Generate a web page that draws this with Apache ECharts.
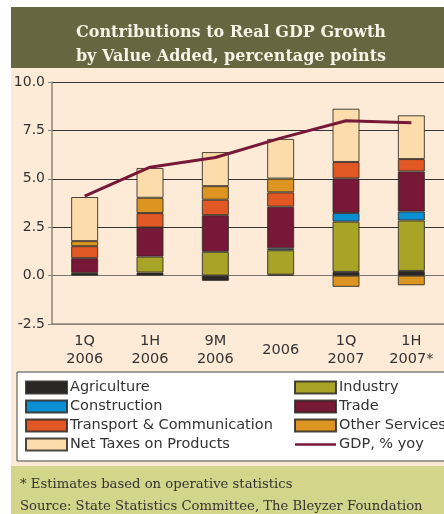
<!DOCTYPE html>
<html><head><meta charset="utf-8">
<script src="https://cdn.jsdelivr.net/npm/echarts@6/dist/echarts.min.js"></script>
<style>html,body{margin:0;padding:0;background:#fff}#c{width:444px;height:514px}</style>
</head><body><div id="c"></div>
<script>
const categories = ['1Q\n2006', '1H\n2006', '9M\n2006', '2006', '1Q\n2007', '1H\n2007*'];
const agriculture = [0.14, 0.16, -0.27, 0.05, 0.19, 0.24];
const industry = [null, 0.82, 1.23, 1.26, 2.60, 2.61];
const construction = [null, null, null, 0.10, 0.44, 0.46];
const trade = [0.76, 1.50, 1.89, 2.15, 1.79, 2.07];
const transport = [0.62, 0.75, 0.80, 0.74, 0.85, 0.64];
const otherServices = [0.26, 0.79, 0.70, 0.71, -0.58, -0.50];
const netTaxes = [2.28, 1.54, 1.76, 2.05, 2.75, 2.26];
const gdp = [4.1, 5.6, 6.1, 7.1, 8.0, 7.9];

const titleLines = ['Contributions to Real GDP Growth', 'by Value Added, percentage points'];
const footLines = ['* Estimates based on operative statistics', 'Source: State Statistics Committee, The Bleyzer Foundation'];

const SANS = '"DejaVu Sans", sans-serif';
const SERIF = '"DejaVu Serif", serif';
const border = 'rgba(45,40,35,0.85)';

function barSeries(name, data, color) {
  return {
    name, type: 'bar', stack: 'total', data, barWidth: 27,
    itemStyle: { color, borderColor: border, borderWidth: 1 }
  };
}

const legendText = { fontFamily: SANS, fontSize: 14.5, color: '#333', lineHeight: 15, padding: [0, 0, 0, -2] };

const chart = echarts.init(document.getElementById('c'), null, { renderer: 'canvas' });
chart.setOption({
  backgroundColor: '#ffffff',
  animation: false,
  graphic: [
    { type: 'rect', z: -10, shape: { x: 11, y: 7, width: 440, height: 61 }, style: { fill: '#666641' } },
    { type: 'rect', z: -10, shape: { x: 11, y: 68, width: 440, height: 398 }, style: { fill: '#fdebd8' } },
    { type: 'rect', z: -10, shape: { x: 11, y: 466, width: 440, height: 60 }, style: { fill: '#d3d58a' } },
    { type: 'rect', z: -5, shape: { x: 17, y: 372, width: 440, height: 89 }, style: { fill: '#ffffff', stroke: '#444', lineWidth: 1 } },
    { type: 'text', z: 10, x: 231, y: 33, style: { text: titleLines[0], fill: '#f7f3e6', font: 'bold 16px ' + SERIF, textAlign: 'center', textVerticalAlign: 'middle' } },
    { type: 'text', z: 10, x: 231, y: 57, style: { text: titleLines[1], fill: '#f7f3e6', font: 'bold 16px ' + SERIF, textAlign: 'center', textVerticalAlign: 'middle' } },
    { type: 'text', z: 10, x: 20, y: 485, style: { text: footLines[0], fill: '#333', font: '13.2px ' + SERIF, textVerticalAlign: 'middle' } },
    { type: 'text', z: 10, x: 20, y: 507, style: { text: footLines[1], fill: '#333', font: '13.2px ' + SERIF, textVerticalAlign: 'middle' } }
  ],
  legend: [
    {
      orient: 'vertical', left: 25, top: 380, padding: 0, itemWidth: 41, itemHeight: 12, itemGap: 4,
      icon: 'rect', textStyle: legendText,
      data: ['Agriculture', 'Construction', 'Transport & Communication', 'Net Taxes on Products']
    },
    {
      orient: 'vertical', left: 294, top: 380, padding: 0, itemWidth: 41, itemHeight: 12, itemGap: 4,
      icon: 'rect', textStyle: legendText,
      data: ['Industry', 'Trade', 'Other Services',
        { name: 'GDP, % yoy', icon: 'path://M0,0L40,0L40,2.6L0,2.6Z' }]
    }
  ],
  grid: { left: 52, right: -6, top: 82, bottom: 190, containLabel: false },
  xAxis: {
    type: 'category', data: categories,
    axisLine: { onZero: false, lineStyle: { color: '#8c8478', width: 1.5 } },
    axisTick: { show: false },
    axisLabel: {
      margin: 8, interval: 0,
      formatter: v => v.indexOf('\n') >= 0 ? v.split('\n').map(s => '{a|' + s + '}').join('\n') : '{b|' + v + '}',
      rich: {
        a: { fontFamily: SANS, fontSize: 14.5, color: '#333', lineHeight: 18 },
        b: { fontFamily: SANS, fontSize: 14.5, color: '#333', lineHeight: 36 }
      }
    }
  },
  yAxis: {
    type: 'value', min: -2.5, max: 10, interval: 2.5,
    axisLine: { show: true, lineStyle: { color: '#8c8478', width: 1.5 } },
    axisTick: { show: true, length: 4, lineStyle: { color: '#8c8478', width: 1 } },
    axisLabel: { margin: 7, fontFamily: SANS, fontSize: 14, color: '#333', formatter: v => v.toFixed(1) },
    splitLine: { show: true, lineStyle: { color: ['#8c8478', '#7a746c', '#333', '#333', '#333', '#333'], width: 1 } }
  },
  series: [
    barSeries('Agriculture', agriculture, '#2a2826'),
    barSeries('Industry', industry, '#a9a327'),
    barSeries('Construction', construction, '#0b8fd3'),
    barSeries('Trade', trade, '#781838'),
    barSeries('Transport & Communication', transport, '#e25825'),
    barSeries('Other Services', otherServices, '#dc9520'),
    barSeries('Net Taxes on Products', netTaxes, '#fcdcaa'),
    {
      name: 'GDP, % yoy', type: 'line', data: gdp, symbol: 'none', z: 5,
      lineStyle: { color: '#781838', width: 3 }, itemStyle: { color: '#781838' }
    }
  ]
});
</script>
</body></html>
